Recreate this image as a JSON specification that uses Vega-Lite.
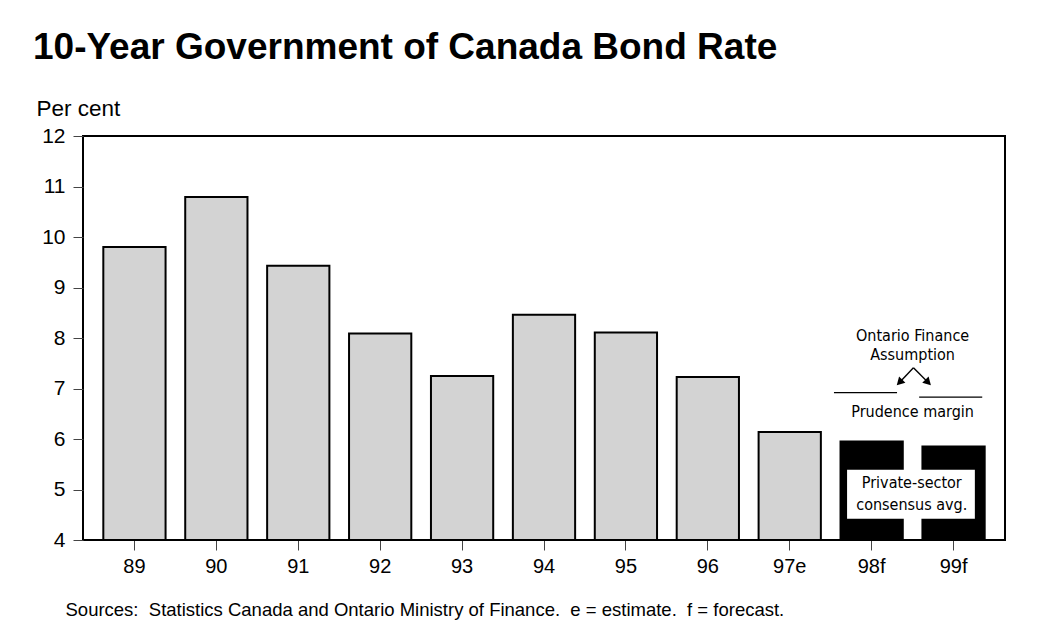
{
  "$schema": "https://vega.github.io/schema/vega-lite/v6.json",
  "width": 922,
  "height": 404,
  "autosize": {"type": "none"},
  "padding": {"left": 83, "top": 136, "right": 45, "bottom": 102},
  "background": "white",
  "title": {
    "text": "10-Year Government of Canada Bond Rate",
    "font": "Liberation Sans",
    "fontSize": 37,
    "fontWeight": "bold",
    "color": "black",
    "anchor": "start",
    "frame": "group",
    "dx": -50,
    "offset": 30
  },
  "datasets": {
    "bars": [
      {"year": "89", "rate": 9.8, "kind": "actual"},
      {"year": "90", "rate": 10.79, "kind": "actual"},
      {"year": "91", "rate": 9.43, "kind": "actual"},
      {"year": "92", "rate": 8.09, "kind": "actual"},
      {"year": "93", "rate": 7.25, "kind": "actual"},
      {"year": "94", "rate": 8.46, "kind": "actual"},
      {"year": "95", "rate": 8.11, "kind": "actual"},
      {"year": "96", "rate": 7.23, "kind": "actual"},
      {"year": "97e", "rate": 6.14, "kind": "actual"},
      {"year": "98f", "rate": 5.95, "kind": "forecast"},
      {"year": "99f", "rate": 5.85, "kind": "forecast"}
    ],
    "assume": [
      {"year": "98f", "xa": 8.54, "xb": 9.31, "rate": 6.92},
      {"year": "99f", "xa": 9.58, "xb": 10.35, "rate": 6.83}
    ],
    "box": [
      {"xa": 8.7, "xb": 10.26, "ya": 4.42, "yb": 5.39}
    ],
    "arrows": [
      {"side": "left", "x0": 9.51, "y0": 7.41, "x1": 9.34, "y1": 7.12},
      {"side": "right", "x0": 9.51, "y0": 7.41, "x1": 9.69, "y1": 7.12}
    ],
    "notes": [
      {"label": "Ontario Finance", "xi": 9.5, "yv": 8.04},
      {"label": "Assumption", "xi": 9.5, "yv": 7.66},
      {"label": "Prudence margin", "xi": 9.5, "yv": 6.53},
      {"label": "Private-sector", "xi": 9.49, "yv": 5.13},
      {"label": "consensus avg.", "xi": 9.49, "yv": 4.69}
    ]
  },
  "layer": [
    {
      "data": {"name": "bars"},
      "mark": {"type": "bar", "stroke": "black", "strokeWidth": 2},
      "encoding": {
        "x": {
          "field": "year",
          "type": "nominal",
          "sort": null,
          "scale": {"paddingInner": 0.24, "paddingOuter": 0.248},
          "axis": {
            "labelAngle": 0,
            "labelFont": "Liberation Sans",
            "labelFontSize": 20,
            "labelColor": "black",
            "labelPadding": 6,
            "tickSize": 10,
            "tickColor": "#444",
            "domain": false,
            "title": "Sources:\u00a0\u00a0Statistics Canada and Ontario Ministry of Finance.\u00a0\u00a0e = estimate.\u00a0\u00a0f = forecast.",
            "titleFont": "Liberation Sans",
            "titleFontSize": 18.5,
            "titleFontWeight": "normal",
            "titleColor": "black",
            "titleAnchor": "start",
            "titleAlign": "left",
            "titleBaseline": "alphabetic",
            "titleX": -18,
            "titleY": 75
          }
        },
        "y": {
          "field": "rate",
          "type": "quantitative",
          "scale": {"domain": [4, 12], "nice": false, "zero": false},
          "axis": {
            "values": [4, 5, 6, 7, 8, 9, 10, 11, 12],
            "grid": false,
            "domain": false,
            "labelFont": "Liberation Sans",
            "labelFontSize": 21,
            "labelColor": "black",
            "labelPadding": 8,
            "tickSize": 10,
            "tickColor": "#444",
            "title": "Per cent",
            "titleFont": "Liberation Sans",
            "titleFontSize": 22.5,
            "titleFontWeight": "normal",
            "titleColor": "black",
            "titleAngle": 0,
            "titleAlign": "left",
            "titleBaseline": "alphabetic",
            "titleX": -47,
            "titleY": -21
          }
        },
        "y2": {"datum": 4},
        "color": {
          "field": "kind",
          "type": "nominal",
          "scale": {"domain": ["actual", "forecast"], "range": ["#d3d3d3", "#000000"]},
          "legend": null
        }
      }
    },
    {
      "data": {"name": "box"},
      "mark": {"type": "rect", "fill": "white", "stroke": null},
      "encoding": {
        "x": {"field": "xa", "type": "quantitative", "scale": {"domain": [-0.628, 10.628], "nice": false, "zero": false}, "axis": null},
        "x2": {"field": "xb"},
        "y": {"field": "ya", "type": "quantitative"},
        "y2": {"field": "yb"}
      }
    },
    {
      "data": {"name": "assume"},
      "mark": {"type": "rule", "color": "black", "strokeWidth": 1.3},
      "encoding": {
        "x": {"field": "xa", "type": "quantitative", "scale": {"domain": [-0.628, 10.628], "nice": false, "zero": false}, "axis": null},
        "x2": {"field": "xb"},
        "y": {"field": "rate", "type": "quantitative"}
      }
    },
    {
      "data": {"name": "arrows"},
      "mark": {"type": "rule", "color": "black", "strokeWidth": 1.4},
      "encoding": {
        "x": {"field": "x0", "type": "quantitative", "scale": {"domain": [-0.628, 10.628], "nice": false, "zero": false}, "axis": null},
        "x2": {"field": "x1"},
        "y": {"field": "y0", "type": "quantitative"},
        "y2": {"field": "y1"}
      }
    },
    {
      "data": {"name": "arrows"},
      "transform": [{"filter": "datum.side === 'left'"}],
      "mark": {"type": "point", "shape": "triangle-down", "filled": true, "color": "black", "opacity": 1, "size": 80, "angle": 45},
      "encoding": {
        "x": {"field": "x1", "type": "quantitative", "scale": {"domain": [-0.628, 10.628], "nice": false, "zero": false}, "axis": null},
        "y": {"field": "y1", "type": "quantitative"}
      }
    },
    {
      "data": {"name": "arrows"},
      "transform": [{"filter": "datum.side === 'right'"}],
      "mark": {"type": "point", "shape": "triangle-down", "filled": true, "color": "black", "opacity": 1, "size": 80, "angle": -45},
      "encoding": {
        "x": {"field": "x1", "type": "quantitative", "scale": {"domain": [-0.628, 10.628], "nice": false, "zero": false}, "axis": null},
        "y": {"field": "y1", "type": "quantitative"}
      }
    },
    {
      "data": {"name": "notes"},
      "mark": {"type": "text", "font": "DejaVu Sans Condensed", "fontSize": 16, "color": "black", "align": "center", "baseline": "middle"},
      "encoding": {
        "x": {"field": "xi", "type": "quantitative", "scale": {"domain": [-0.628, 10.628], "nice": false, "zero": false}, "axis": null},
        "y": {"field": "yv", "type": "quantitative"},
        "text": {"field": "label"}
      }
    }
  ],
  "resolve": {"scale": {"x": "independent"}, "axis": {"x": "independent"}},
  "config": {
    "view": {"stroke": "black", "strokeWidth": 2},
    "font": "Liberation Sans"
  }
}
